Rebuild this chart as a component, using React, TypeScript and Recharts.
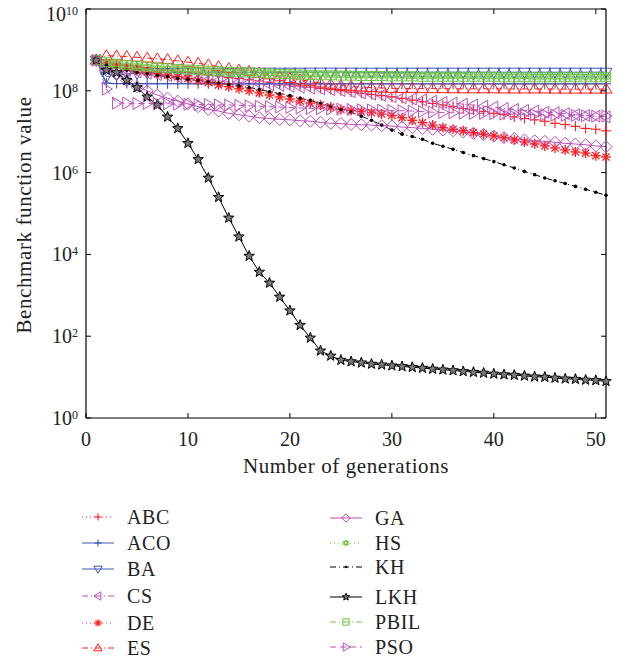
import { LineChart, Line, XAxis, YAxis } from 'recharts';

const FONT = '"Liberation Serif", "Times New Roman", serif';

// generations on the x axis
const gens = [
  1, 2, 3, 4, 5, 6, 7, 8, 9, 10, 11, 12, 13, 14, 15, 16, 17, 18, 19, 20, 21, 22, 23, 24, 25, 26,
  27, 28, 29, 30, 31, 32, 33, 34, 35, 36, 37, 38, 39, 40, 41, 42, 43, 44, 45, 46, 47, 48, 49, 50, 51,
];

const abc = [
  5.6e8, 4.8e8, 4.5e8, 4.2e8, 4.0e8, 3.7e8, 3.5e8, 3.2e8, 3.0e8, 2.8e8, 2.6e8, 2.45e8, 2.3e8, 2.1e8,
  2.0e8, 1.86e8, 1.74e8, 1.62e8, 1.5e8, 1.4e8, 1.32e8, 1.23e8, 1.15e8, 1.07e8, 1.0e8, 9.3e7, 8.7e7,
  8.1e7, 7.6e7, 7.1e7, 6.5e7, 5.9e7, 5.4e7, 4.9e7, 4.5e7, 4.1e7, 3.7e7, 3.4e7, 3.1e7, 2.8e7, 2.6e7,
  2.3e7, 2.1e7, 1.95e7, 1.8e7, 1.6e7, 1.5e7, 1.35e7, 1.2e7, 1.15e7, 1.05e7,
];
const aco = [
  5.6e8, 1.55e8, 1.5e8, 1.5e8, 1.5e8, 1.49e8, 1.49e8, 1.49e8, 1.49e8, 1.49e8, 1.48e8, 1.48e8, 1.48e8,
  1.48e8, 1.48e8, 1.48e8, 1.48e8, 1.48e8, 1.48e8, 1.48e8, 1.48e8, 1.48e8, 1.48e8, 1.48e8, 1.48e8,
  1.48e8, 1.48e8, 1.48e8, 1.48e8, 1.48e8, 1.48e8, 1.48e8, 1.48e8, 1.48e8, 1.48e8, 1.48e8, 1.48e8,
  1.48e8, 1.48e8, 1.48e8, 1.48e8, 1.48e8, 1.48e8, 1.48e8, 1.48e8, 1.48e8, 1.48e8, 1.48e8, 1.48e8,
  1.48e8, 1.48e8,
];
const ba = [
  5.6e8, 2.2e8, 2.5e8, 2.6e8, 2.7e8, 2.75e8, 2.8e8, 2.8e8, 2.85e8, 2.85e8, 2.85e8, 2.85e8, 2.85e8,
  2.85e8, 2.85e8, 2.85e8, 2.85e8, 2.85e8, 2.85e8, 2.85e8, 2.85e8, 2.85e8, 2.85e8, 2.85e8, 2.85e8,
  2.85e8, 2.85e8, 2.85e8, 2.85e8, 2.85e8, 2.85e8, 2.85e8, 2.85e8, 2.85e8, 2.85e8, 2.85e8, 2.85e8,
  2.85e8, 2.85e8, 2.85e8, 2.85e8, 2.85e8, 2.85e8, 2.85e8, 2.85e8, 2.85e8, 2.85e8, 2.85e8, 2.85e8,
  2.85e8, 2.85e8,
];
const cs = [
  5.6e8, 4.0e8, 3.5e8, 3.2e8, 2.9e8, 2.7e8, 2.5e8, 2.35e8, 2.2e8, 2.05e8, 1.95e8, 1.86e8, 1.78e8,
  1.7e8, 1.62e8, 1.55e8, 1.48e8, 1.41e8, 1.35e8, 1.29e8, 1.23e8, 1.17e8, 1.12e8, 1.07e8, 1.02e8,
  9.5e7, 8.9e7, 8.3e7, 7.8e7, 7.2e7, 6.8e7, 6.3e7, 6.0e7, 5.6e7, 5.2e7, 5.0e7, 4.7e7, 4.5e7, 4.2e7,
  4.0e7, 3.7e7, 3.5e7, 3.3e7, 3.2e7, 3.0e7, 2.9e7, 2.75e7, 2.6e7, 2.5e7, 2.4e7, 2.3e7,
];
const de = [
  5.6e8, 4.8e8, 4.2e8, 3.6e8, 3.2e8, 2.9e8, 2.6e8, 2.4e8, 2.2e8, 2.0e8, 1.8e8, 1.6e8, 1.4e8, 1.26e8,
  1.12e8, 1.0e8, 8.9e7, 7.9e7, 7.1e7, 6.3e7, 5.6e7, 5.0e7, 4.5e7, 4.0e7, 3.5e7, 3.3e7, 3.1e7, 2.9e7,
  2.7e7, 2.5e7, 2.2e7, 1.9e7, 1.66e7, 1.45e7, 1.26e7, 1.15e7, 1.05e7, 9.5e6, 8.7e6, 7.9e6, 7.1e6,
  6.3e6, 5.6e6, 5.0e6, 4.5e6, 4.0e6, 3.6e6, 3.2e6, 3.0e6, 2.6e6, 2.4e6,
];
const es = [
  5.6e8, 7.2e8, 7.1e8, 6.9e8, 6.6e8, 6.3e8, 6.0e8, 5.8e8, 5.4e8, 5.0e8, 4.7e8, 4.3e8, 3.9e8, 3.5e8,
  3.2e8, 3.0e8, 2.7e8, 2.45e8, 2.2e8, 2.0e8, 1.86e8, 1.7e8, 1.55e8, 1.45e8, 1.35e8, 1.29e8, 1.23e8,
  1.2e8, 1.17e8, 1.15e8, 1.14e8, 1.14e8, 1.13e8, 1.13e8, 1.13e8, 1.12e8, 1.12e8, 1.12e8, 1.12e8,
  1.12e8, 1.11e8, 1.11e8, 1.11e8, 1.11e8, 1.11e8, 1.1e8, 1.1e8, 1.1e8, 1.1e8, 1.1e8, 1.1e8,
];
const ga = [
  5.6e8, 3.5e8, 2.5e8, 1.8e8, 1.26e8, 1.0e8, 7.9e7, 6.6e7, 5.6e7, 4.8e7, 4.1e7, 3.5e7, 3.2e7, 2.8e7,
  2.6e7, 2.4e7, 2.2e7, 2.1e7, 2.0e7, 1.95e7, 1.86e7, 1.8e7, 1.7e7, 1.6e7, 1.58e7, 1.5e7, 1.48e7,
  1.45e7, 1.4e7, 1.38e7, 1.3e7, 1.26e7, 1.2e7, 1.15e7, 1.1e7, 1.05e7, 9.8e6, 9.1e6, 8.5e6, 7.8e6,
  7.2e6, 6.8e6, 6.3e6, 6.0e6, 5.8e6, 5.5e6, 5.2e6, 5.0e6, 4.8e6, 4.5e6, 4.3e6,
];
const hs = [
  5.6e8, 4.9e8, 4.5e8, 4.2e8, 4.0e8, 3.8e8, 3.6e8, 3.5e8, 3.4e8, 3.3e8, 3.2e8, 3.1e8, 3.0e8, 2.9e8,
  2.85e8, 2.8e8, 2.75e8, 2.7e8, 2.65e8, 2.6e8, 2.55e8, 2.5e8, 2.5e8, 2.45e8, 2.45e8, 2.4e8, 2.4e8,
  2.4e8, 2.35e8, 2.35e8, 2.35e8, 2.3e8, 2.3e8, 2.3e8, 2.3e8, 2.3e8, 2.3e8, 2.25e8, 2.25e8, 2.25e8,
  2.25e8, 2.25e8, 2.25e8, 2.2e8, 2.2e8, 2.2e8, 2.2e8, 2.2e8, 2.2e8, 2.2e8, 2.2e8,
];
const kh = [
  5.6e8, 4.2e8, 3.5e8, 3.2e8, 2.8e8, 2.6e8, 2.4e8, 2.2e8, 2.0e8, 1.9e8, 1.8e8, 1.66e8, 1.55e8,
  1.45e8, 1.32e8, 1.2e8, 1.07e8, 9.5e7, 8.5e7, 7.6e7, 6.6e7, 5.8e7, 4.9e7, 4.2e7, 3.5e7, 3.0e7,
  2.4e7, 1.9e7, 1.45e7, 1.1e7, 8.7e6, 7.6e6, 6.5e6, 5.2e6, 4.4e6, 3.7e6, 3.1e6, 2.6e6, 2.2e6, 1.86e6,
  1.55e6, 1.3e6, 1.07e6, 8.9e5, 7.4e5, 6.3e5, 5.4e5, 4.6e5, 3.9e5, 3.3e5, 2.8e5,
];
const lkh = [
  5.6e8, 3.2e8, 2.8e8, 1.8e8, 1.2e8, 7.1e7, 4.5e7, 2.3e7, 1.2e7, 5.2e6, 2.1e6, 7.4e5, 2.5e5, 7.8e4,
  2.7e4, 9.1e3, 3.7e3, 2.0e3, 910, 420, 186, 91, 44, 33, 26, 24, 22.4, 20.9, 20, 19, 18.2, 17.4, 16.6,
  15.8, 15.1, 14.5, 13.8, 13.2, 12.6, 12.0, 11.5, 11.2, 10.7, 10.2, 10.0, 9.5, 9.1, 8.9, 8.5, 8.3, 7.9,
];
const pbil = [
  5.6e8, 5.0e8, 4.6e8, 4.3e8, 4.1e8, 3.9e8, 3.7e8, 3.55e8, 3.4e8, 3.3e8, 3.2e8, 3.1e8, 3.0e8, 2.9e8,
  2.85e8, 2.8e8, 2.7e8, 2.65e8, 2.6e8, 2.55e8, 2.5e8, 2.45e8, 2.4e8, 2.4e8, 2.35e8, 2.35e8, 2.3e8,
  2.3e8, 2.3e8, 2.25e8, 2.25e8, 2.25e8, 2.2e8, 2.2e8, 2.2e8, 2.2e8, 2.2e8, 2.2e8, 2.2e8, 2.2e8,
  2.15e8, 2.15e8, 2.15e8, 2.15e8, 2.15e8, 2.15e8, 2.15e8, 2.15e8, 2.15e8, 2.15e8, 2.15e8,
];
const pso = [
  5.6e8, 1.1e8, 5.0e7, 5.0e7, 4.9e7, 4.9e7, 4.8e7, 4.8e7, 4.7e7, 4.7e7, 4.6e7, 4.6e7, 4.5e7, 4.5e7,
  4.4e7, 4.3e7, 4.2e7, 4.1e7, 4.0e7, 3.9e7, 3.8e7, 3.7e7, 3.65e7, 3.6e7, 3.55e7, 3.5e7, 3.45e7,
  3.4e7, 3.35e7, 3.3e7, 3.25e7, 3.2e7, 3.1e7, 3.0e7, 2.95e7, 2.9e7, 2.85e7, 2.8e7, 2.8e7, 2.75e7,
  2.7e7, 2.7e7, 2.65e7, 2.6e7, 2.6e7, 2.55e7, 2.5e7, 2.5e7, 2.45e7, 2.4e7, 2.4e7,
];

const xTicks = [0, 10, 20, 30, 40, 50];
const yTicks = [1, 1e2, 1e4, 1e6, 1e8, 1e10];

const RED = '#ff1c1c';
const BLUE = '#3a55b4';
const MAGENTA = '#b84fb8';
const GREEN = '#6cc644';
const BLACK = '#000';

const DOTTED = '1 3';
const DASHDOT = '6 3 1 3';
const DASHED = '6 4';

const series = [
  { name: 'ABC', values: abc, color: RED, dash: DOTTED, shape: 'plus' },
  { name: 'ACO', values: aco, color: BLUE, dash: undefined, shape: 'plus' },
  { name: 'BA', values: ba, color: BLUE, dash: undefined, shape: 'triDown' },
  { name: 'CS', values: cs, color: MAGENTA, dash: DASHDOT, shape: 'triLeft' },
  { name: 'DE', values: de, color: RED, dash: DOTTED, shape: 'asterisk' },
  { name: 'ES', values: es, color: RED, dash: DASHDOT, shape: 'triUp' },
  { name: 'GA', values: ga, color: MAGENTA, dash: undefined, shape: 'diamond' },
  { name: 'HS', values: hs, color: GREEN, dash: DOTTED, shape: 'hexagram' },
  { name: 'KH', values: kh, color: BLACK, dash: DASHDOT, shape: 'dot' },
  { name: 'LKH', values: lkh, color: BLACK, dash: undefined, shape: 'star' },
  { name: 'PBIL', values: pbil, color: GREEN, dash: DASHDOT, shape: 'square' },
  { name: 'PSO', values: pso, color: MAGENTA, dash: DASHED, shape: 'triRight' },
];

const rows = gens.map((g, i) => {
  const r: any = { gen: g };
  series.forEach((s) => (r[s.name] = s.values[i]));
  return r;
});

function Marker({ shape, cx, cy, color, k = 1 }: any) {
  const p = (pts: number[][]) => pts.map(([a, b]) => `${cx + a * k},${cy + b * k}`).join(' ');
  const common = { fill: 'none', stroke: color, strokeWidth: 1 };
  switch (shape) {
    case 'plus':
      return (
        <g stroke={color} strokeWidth={1.1}>
          <line x1={cx - 5 * k} x2={cx + 5 * k} y1={cy} y2={cy} />
          <line x1={cx} x2={cx} y1={cy - 5 * k} y2={cy + 5 * k} />
        </g>
      );
    case 'triDown':
      return <polygon points={p([[-6, -4], [6, -4], [0, 6]])} {...common} />;
    case 'triUp':
      return <polygon points={p([[-6, 4], [6, 4], [0, -6]])} {...common} />;
    case 'triLeft':
      return <polygon points={p([[4, -6], [4, 6], [-6, 0]])} {...common} />;
    case 'triRight':
      return <polygon points={p([[-4, -6], [-4, 6], [6, 0]])} {...common} />;
    case 'diamond':
      return <polygon points={p([[0, -6], [6, 0], [0, 6], [-6, 0]])} {...common} />;
    case 'square':
      return <rect x={cx - 4.5 * k} y={cy - 4.5 * k} width={9 * k} height={9 * k} {...common} />;
    case 'hexagram':
      return (
        <g {...common}>
          <polygon points={p([[0, -4.5], [3.9, 2.25], [-3.9, 2.25]])} />
          <polygon points={p([[0, 4.5], [3.9, -2.25], [-3.9, -2.25]])} />
        </g>
      );
    case 'asterisk':
      return (
        <g stroke={color} strokeWidth={1.3}>
          <line x1={cx - 5 * k} x2={cx + 5 * k} y1={cy} y2={cy} />
          <line x1={cx} x2={cx} y1={cy - 5 * k} y2={cy + 5 * k} />
          <line x1={cx - 3.6 * k} x2={cx + 3.6 * k} y1={cy - 3.6 * k} y2={cy + 3.6 * k} />
          <line x1={cx - 3.6 * k} x2={cx + 3.6 * k} y1={cy + 3.6 * k} y2={cy - 3.6 * k} />
        </g>
      );
    case 'dot':
      return <circle cx={cx} cy={cy} r={1.8 * k} fill={color} />;
    case 'star': {
      const pts: number[][] = [];
      for (let i = 0; i < 10; i++) {
        const r = i % 2 === 0 ? 5.5 : 2.3;
        const a = -Math.PI / 2 + (i * Math.PI) / 5;
        pts.push([r * Math.cos(a), r * Math.sin(a)]);
      }
      return <polygon points={p(pts)} fill="#7a7a7a" stroke={color} strokeWidth={1} />;
    }
    default:
      return null;
  }
}

const bottomTick = (t: any) => (
  <g>
    <line x1={t.x} x2={t.x} y1={t.y} y2={t.y - 5} stroke="#000" />
    <text x={t.x} y={t.y + 28} textAnchor="middle" fontSize={20} fontFamily={FONT} fill="#222">
      {t.payload.value}
    </text>
  </g>
);
const topTick = (t: any) => <line x1={t.x} x2={t.x} y1={t.y} y2={t.y + 5} stroke="#000" />;
const leftTick = (t: any) => {
  // the top label sits a little lower so it stays inside the page
  const base = t.payload.value >= 1e10 ? 12 : 7;
  return (
    <g>
      <line x1={t.x} x2={t.x + 5} y1={t.y} y2={t.y} stroke="#000" />
      <text x={t.x - 8} y={t.y + base} textAnchor="end" fontSize={20} fontFamily={FONT} fill="#222">
        10
        <tspan dy={-6} fontSize={12}>
          {Math.round(Math.log10(t.payload.value))}
        </tspan>
      </text>
    </g>
  );
};
const rightTick = (t: any) => <line x1={t.x} x2={t.x - 5} y1={t.y} y2={t.y} stroke="#000" />;

const legendRows = [517, 543, 569, 596, 623, 648];
const legendRowsRight = [518, 543, 567, 597, 622, 647];

export default function App() {
  return (
    <div style={{ position: 'absolute', left: 0, top: 0, width: 620, height: 658, background: '#fff' }}>
      <LineChart width={620} height={500} data={rows} margin={{ top: 8, right: 13, bottom: 52, left: 56 }}>
        <XAxis
          type="number"
          dataKey="gen"
          domain={[0, 51]}
          ticks={xTicks}
          height={30}
          tickSize={0}
          tickMargin={0}
          tickLine={false}
          tick={bottomTick}
          interval={0}
          stroke="#000"
          strokeWidth={1.2}
        />
        <XAxis
          xAxisId="top"
          orientation="top"
          type="number"
          dataKey="gen"
          domain={[0, 51]}
          ticks={xTicks}
          height={1}
          tickSize={0}
          tickMargin={0}
          tickLine={false}
          tick={topTick}
          interval={0}
          stroke="#000"
          strokeWidth={1.2}
        />
        <YAxis
          type="number"
          scale="log"
          domain={[1, 1e10]}
          ticks={yTicks}
          allowDataOverflow
          width={30}
          tickSize={0}
          tickMargin={0}
          tickLine={false}
          tick={leftTick}
          interval={0}
          stroke="#000"
          strokeWidth={1.2}
        />
        <YAxis
          yAxisId="right"
          orientation="right"
          type="number"
          scale="log"
          domain={[1, 1e10]}
          ticks={yTicks}
          allowDataOverflow
          width={1}
          tickSize={0}
          tickMargin={0}
          tickLine={false}
          tick={rightTick}
          interval={0}
          stroke="#000"
          strokeWidth={1.2}
        />
        {series.map((s) => (
          <Line
            key={s.name}
            dataKey={s.name}
            stroke={s.color}
            strokeWidth={1}
            strokeDasharray={s.dash}
            isAnimationActive={false}
            activeDot={false}
            dot={(d: any) => (
              <Marker key={`${s.name}-${d.index}`} shape={s.shape} cx={d.cx} cy={d.cy} color={s.color} />
            )}
          />
        ))}
      </LineChart>
      <div
        style={{
          position: 'absolute',
          left: 346,
          top: 466,
          transform: 'translate(-50%, -50%)',
          fontFamily: FONT,
          fontSize: 21,
          letterSpacing: 0.6,
          color: '#222',
          whiteSpace: 'nowrap',
        }}
      >
        Number of generations
      </div>
      <div
        style={{
          position: 'absolute',
          left: 24,
          top: 215,
          transform: 'translate(-50%, -50%) rotate(-90deg)',
          fontFamily: FONT,
          fontSize: 21,
          letterSpacing: 0.6,
          color: '#222',
          whiteSpace: 'nowrap',
        }}
      >
        Benchmark function value
      </div>
      <svg width={620} height={158} style={{ position: 'absolute', left: 0, top: 500 }}>
        {series.map((s, i) => {
          const left = i < 6;
          const x0 = left ? 82 : 330;
          const y = (left ? legendRows[i] : legendRowsRight[i - 6]) - 500;
          return (
            <g key={s.name}>
              <line x1={x0} x2={x0 + 32} y1={y} y2={y} stroke={s.color} strokeWidth={1} strokeDasharray={s.dash} />
              <Marker shape={s.shape} cx={x0 + 16} cy={y} color={s.color} k={0.7} />
              <text x={x0 + 45} y={y + 7} fontSize={20} letterSpacing={0.6} fontFamily={FONT} fill="#222">
                {s.name}
              </text>
            </g>
          );
        })}
      </svg>
    </div>
  );
}
